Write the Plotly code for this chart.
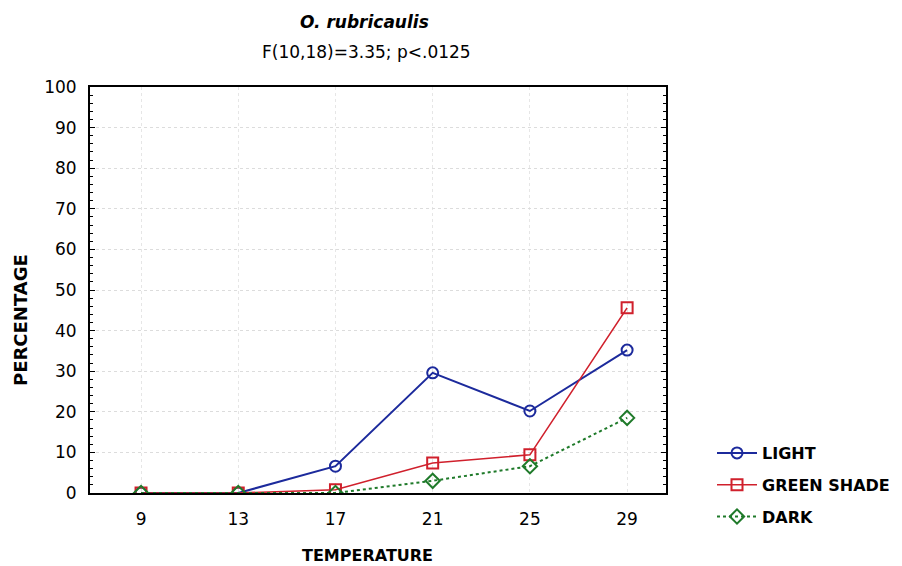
import plotly.graph_objects as go

temps = [9, 13, 17, 21, 25, 29]
light = [0, 0, 6.6, 29.6, 20.2, 35.2]
green_shade = [0, 0, 0.8, 7.4, 9.4, 45.6]
dark = [0, 0, 0, 3.0, 6.6, 18.5]
y_ticks = list(range(0, 101, 10))

FONT = "DejaVu Sans"
W, H = 902, 566
L, R, T, B = 90, 236, 87, 73
PW, PH = W - L - R, H - T - B


def px(x):
    return (x - L) / PW


def py(y):
    return (H - B - y) / PH


fig = go.Figure()
fig.add_trace(go.Scatter(x=temps, y=light, name="LIGHT", mode="lines+markers", legendgroup="a",
                         line=dict(color="#1c2a9c", width=2),
                         marker=dict(symbol="circle-open", size=11, color="#1c2a9c", line=dict(width=2))))
fig.add_trace(go.Scatter(x=temps, y=green_shade, name="GREEN SHADE", mode="lines+markers", legendgroup="b",
                         line=dict(color="#d0202c", width=1.6),
                         marker=dict(symbol="square-open", size=11, color="#d0202c", line=dict(width=2))))
fig.add_trace(go.Scatter(x=temps, y=dark, name="DARK", mode="lines+markers", legendgroup="c",
                         line=dict(color="#1f7a2a", width=2, dash="dot"),
                         marker=dict(symbol="diamond-open", size=11, color="#1f7a2a", line=dict(width=2))))


def ann(text, x, y, size, angle=0):
    return dict(text=text, x=px(x), y=py(y), xref="paper", yref="paper",
                xanchor="center", yanchor="middle", showarrow=False,
                textangle=angle, font=dict(size=size, family=FONT))


fig.update_layout(
    width=W, height=H,
    margin=dict(l=L, r=R, t=T, b=B, autoexpand=False),
    paper_bgcolor="white", plot_bgcolor="white",
    font=dict(family=FONT, color="black", size=16),
    showlegend=True,
    legend=dict(x=px(712), y=py(436), xanchor="left", yanchor="top",
                font=dict(size=16, family=FONT, weight="bold"), tracegroupgap=8,
                itemwidth=40, bgcolor="rgba(0,0,0,0)"),
    annotations=[
        ann("<b><i>O. rubricaulis</i></b>", 364, 22, 17),
        ann("F(10,18)=3.35; p<.0125", 366, 52, 17),
        ann("<b>TEMPERATURE</b>", 367, 555, 16),
        ann("<b>PERCENTAGE</b>", 20, 320, 18, -90),
    ],
)

fig.update_xaxes(
    range=[6.9, 30.6], tickvals=temps, ticktext=[str(t) for t in temps],
    showline=True, linecolor="black", linewidth=2, mirror=True, automargin=False,
    ticks="", showgrid=True, gridcolor="#e6e6e6", griddash="dot", zeroline=False,
    tickfont=dict(size=17), ticklabelstandoff=10,
)
fig.update_yaxes(
    range=[0, 100], tickvals=y_ticks, automargin=False,
    showline=True, linecolor="black", linewidth=2, mirror="allticks",
    ticks="inside", ticklen=5, tickcolor="black",
    minor=dict(ticks="inside", ticklen=3, dtick=2, tickcolor="black", showgrid=False),
    showgrid=True, gridcolor="#dcdcdc", griddash="dot", zeroline=False,
    tickfont=dict(size=17), ticklabelstandoff=8,
)

fig.write_html("out.html")
